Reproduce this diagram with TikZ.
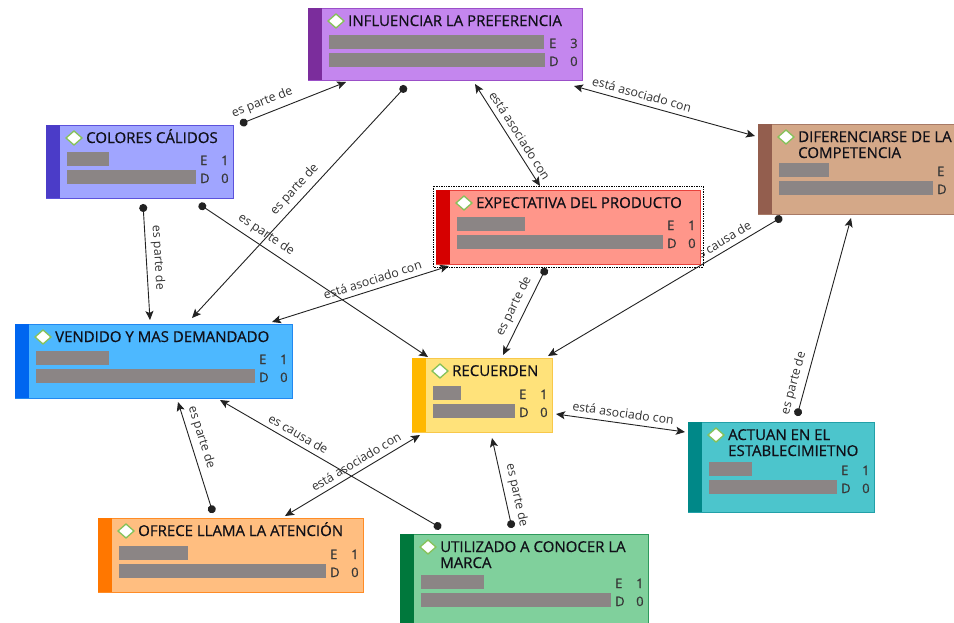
\documentclass[tikz,border=0pt]{standalone}
\usepackage{fontspec}
\setmainfont{Open Sans}
\newfontfamily\heavyfont[FakeBold=0.6]{Open Sans}
\usetikzlibrary{arrows.meta,backgrounds}

% palette of the concept boxes
\definecolor{infFill}{HTML}{C486EE}\definecolor{infStrip}{HTML}{7B2D9C}\definecolor{infLine}{HTML}{9B4FC8}
\definecolor{colFill}{HTML}{A0A5FF}\definecolor{colStrip}{HTML}{4B3CC8}\definecolor{colLine}{HTML}{5C52DB}
\definecolor{expFill}{HTML}{FF968A}\definecolor{expStrip}{HTML}{D60000}\definecolor{expLine}{HTML}{E8403A}
\definecolor{difFill}{HTML}{D4A888}\definecolor{difStrip}{HTML}{935E4E}\definecolor{difLine}{HTML}{A87A66}
\definecolor{venFill}{HTML}{4DB8FF}\definecolor{venStrip}{HTML}{0066F0}\definecolor{venLine}{HTML}{2288F0}
\definecolor{recFill}{HTML}{FFE27A}\definecolor{recStrip}{HTML}{FFB800}\definecolor{recLine}{HTML}{F8C84A}
\definecolor{actFill}{HTML}{4CC5CC}\definecolor{actStrip}{HTML}{008888}\definecolor{actLine}{HTML}{22A0A8}
\definecolor{ofrFill}{HTML}{FFBE80}\definecolor{ofrStrip}{HTML}{FF7700}\definecolor{ofrLine}{HTML}{FF8C26}
\definecolor{utiFill}{HTML}{80D09C}\definecolor{utiStrip}{HTML}{00783C}\definecolor{utiLine}{HTML}{2E9A5C}
\definecolor{barGray}{HTML}{8B8585}
\definecolor{iconGreen}{HTML}{86C25A}
\definecolor{titleInk}{HTML}{101018}
\definecolor{edInk}{HTML}{383838}
\definecolor{lblInk}{HTML}{333333}
\definecolor{linkInk}{HTML}{222222}

\newcommand\titlefont{\heavyfont\fontsize{15}{17}\selectfont}
\newcommand\edfont{\heavyfont\fontsize{13}{15}\selectfont}
\newcommand\labelfont{\fontsize{12.3}{14}\selectfont}

\tikzset{
  boxbody/.style={anchor=north west, inner sep=0pt, outer sep=0pt, line width=0.8pt},
  iconline/.style={draw=iconGreen, fill=white, line width=1.3pt, line join=miter},
  titletext/.style={anchor=base west, inner sep=0pt, font=\titlefont, text=titleInk},
  edtext/.style={anchor=base west, inner sep=0pt, font=\edfont, text=edInk},
  bar/.style={fill=barGray},
  link/.style={draw=linkInk, line width=0.9pt},
  onehead/.style={link, {Circle[length=8pt]}-{Stealth[length=9pt,width=8pt,inset=2pt]}},
  twohead/.style={link, {Stealth[length=9pt,width=8pt,inset=2pt]}-{Stealth[length=9pt,width=8pt,inset=2pt]}},
  lbl/.style={font=\labelfont, text=lblInk, sloped, above=4pt, inner sep=1pt}
}

% concept box: name, corner, width, height, palette, title, bar offset, first bar width, E value
\newcommand\cbox[9]{%
  \node[boxbody, fill=#5Fill, draw=#5Line, minimum width=#3, minimum height=#4] (#1) at #2 {};
  \fill[#5Strip] (#1.north west) rectangle ([xshift=14pt]#1.south west);
  \path ([shift={(28,13)}]#1.north west) coordinate (#1-icon);
  \draw[iconline] ([xshift=-8pt]#1-icon) -- ([yshift=7pt]#1-icon) -- ([xshift=8pt]#1-icon) -- ([yshift=-7pt]#1-icon) -- cycle;
  \node[titletext] (#1-title) at ([shift={(40,18)}]#1.north west) {#6};
  \fill[bar] ([shift={(21,#7)}]#1.north west) rectangle ++(#8,14);
  \fill[bar] ([shift={(21,#7+18)}]#1.north west) rectangle ([shift={(-37,#7+32)}]#1.north east);
  \node[edtext] (#1-e) at ([shift={(-33,#7+13)}]#1.north east) {E};
  \node[edtext] (#1-ev) at ([shift={(-12,#7+13)}]#1.north east) {#9};
  \node[edtext] (#1-d) at ([shift={(-33,#7+31)}]#1.north east) {D};
  \node[edtext] (#1-dv) at ([shift={(-12,#7+31)}]#1.north east) {0};
}

\begin{document}
\begin{tikzpicture}[x=1pt, y=-1pt]
  \useasboundingbox (0,0) rectangle (954,622);
  \clip (0,0) rectangle (954,622);

  \cbox{inf}{(308,8)}{274}{72}{inf}{INFLUENCIAR LA PREFERENCIA}{27}{215}{3}
  \cbox{col}{(46,125)}{187}{73}{col}{COLORES CÁLIDOS}{27}{42}{1}
  \cbox{exp}{(436,190)}{264}{74}{exp}{EXPECTATIVA DEL PRODUCTO}{27}{68}{1}
  \cbox{dif}{(758,124)}{212}{90}{dif}{DIFERENCIARSE DE LA}{39}{50}{1}
  \node[titletext] (dif-title2) at ([shift={(40,34)}]dif.north west) {COMPETENCIA};
  \cbox{ven}{(15,324)}{277}{74}{ven}{VENDIDO Y MAS DEMANDADO}{27}{73}{1}
  \cbox{rec}{(412,358)}{140}{74}{rec}{RECUERDEN}{28}{28}{1}
  \cbox{act}{(688,422)}{186}{90}{act}{ACTUAN EN EL}{40}{43}{1}
  \node[titletext] (act-title2) at ([shift={(40,34)}]act.north west) {ESTABLECIMIETNO};
  \cbox{ofr}{(98,518)}{265}{74}{ofr}{OFRECE LLAMA LA ATENCIÓN}{28}{69}{1}
  \cbox{uti}{(400,534)}{248}{90}{uti}{UTILIZADO A CONOCER LA}{41}{63}{1}
  \node[titletext] (uti-title2) at ([shift={(40,34)}]uti.north west) {MARCA};

  % selection frame around the active concept
  \draw[densely dotted, line width=0.7pt] ([shift={(-3,-4)}]exp.north west) rectangle ([shift={(3,3)}]exp.south east);

  \begin{scope}[on background layer]
    \fill[white] (0,0) rectangle (954,622);
    \draw[onehead] ([shift={(7,-1)}]col.north east) -- node[lbl, pos=0.25] {es parte de} ([shift={(38,2)}]inf.south west);
    \draw[onehead] ([shift={(98,6)}]inf.south west) -- node[lbl, pos=0.48] {es parte de} ([shift={(177,-6)}]ven.north west);
    \draw[onehead] ([shift={(153,6)}]col.south west) -- node[lbl, pos=0.265] {es parte de} ([shift={(16,-1)}]rec.north west);
    \draw[onehead] ([shift={(97,6)}]col.south west) -- node[lbl, pos=0.47] {es parte de} ([shift={(135,-4)}]ven.north west);
    \draw[twohead] ([shift={(167,4)}]inf.south west) -- node[lbl, pos=0.56] {está asociado con} ([shift={(104,-4)}]exp.north west);
    \draw[twohead] ([shift={(-8,6)}]inf.south east) -- node[lbl, pos=0.36] {está asociado con} ([shift={(-3,12)}]dif.north west);
    \draw[twohead] ([shift={(257,-2)}]ven.north west) -- node[lbl, pos=0.585] {está asociado con} ([shift={(13,2)}]exp.south west);
    \draw[onehead] ([shift={(110,4)}]exp.south west) -- node[lbl, pos=0.5] {es parte de} ([shift={(91,-3)}]rec.north west);
    \draw[onehead] ([shift={(24,3)}]dif.south west) -- node[lbl, pos=0.237] {es causa de} ([shift={(-4,-2)}]rec.north east);
    \draw[onehead] ([shift={(109,-6)}]act.north west) -- node[lbl, pos=0.15] {es parte de} ([shift={(93,4)}]dif.south west);
    \draw[twohead] ([shift={(4,56)}]rec.north east) -- node[lbl, pos=0.51] {está asociado con} ([shift={(-3,10)}]act.north west);
    \draw[onehead] ([shift={(112,-6)}]uti.north west) -- node[lbl, pos=0.335] {es parte de} ([shift={(80,6)}]rec.south west);
    \draw[onehead] ([shift={(115,-5)}]ofr.north west) -- node[lbl, pos=0.65] {es parte de} ([shift={(163,4)}]ven.south west);
    \draw[onehead] ([shift={(41,-6)}]uti.north west) -- node[lbl, pos=0.668] {es causa de} ([shift={(205,2)}]ven.south west);
    \draw[twohead] ([shift={(187,-2)}]ofr.north west) -- node[lbl, pos=0.564] {está asociado con} ([shift={(8,3)}]rec.south west);
  \end{scope}
\end{tikzpicture}
\end{document}
